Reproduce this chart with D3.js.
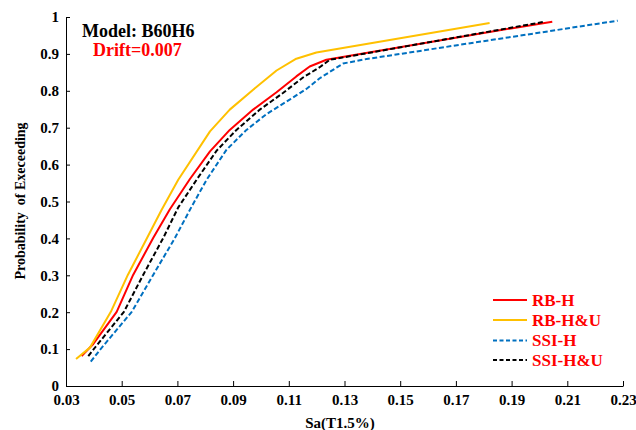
<!DOCTYPE html>
<html><head><meta charset="utf-8">
<script src="https://cdn.jsdelivr.net/npm/d3@7"></script>
<style>body{margin:0;background:#fff}svg{display:block}text{font-family:"Liberation Serif","Times New Roman",serif;font-weight:bold}</style>
</head><body><svg id="c" width="636" height="430"></svg>
<script>
const seriesNames = ["RB-H", "RB-H&U", "SSI-H", "SSI-H&U"];
const xTicks = [0.03,0.05,0.07,0.09,0.11,0.13,0.15,0.17,0.19,0.21,0.23];
const yTicks = [0,0.1,0.2,0.3,0.4,0.5,0.6,0.7,0.8,0.9,1];
const rbH = [[0.0356,0.081],[0.0398,0.114],[0.0482,0.201],[0.0541,0.301],[0.0613,0.401],[0.0673,0.479],[0.0745,0.561],[0.0817,0.636],[0.0888,0.694],[0.0972,0.749],[0.1056,0.796],[0.1127,0.839],[0.1175,0.866],[0.1235,0.884],[0.1857,0.964],[0.2046,0.987]];
const rbHU = [[0.0336,0.073],[0.0386,0.104],[0.0461,0.201],[0.0522,0.301],[0.0591,0.401],[0.0643,0.477],[0.0703,0.559],[0.0817,0.690],[0.0888,0.749],[0.0972,0.803],[0.1056,0.855],[0.1127,0.887],[0.1199,0.904],[0.1821,0.984]];
const ssiH = [[0.0389,0.066],[0.0422,0.098],[0.0536,0.201],[0.0613,0.301],[0.0691,0.401],[0.0751,0.486],[0.0805,0.559],[0.0876,0.640],[0.0948,0.694],[0.1020,0.737],[0.1103,0.776],[0.1163,0.805],[0.1211,0.834],[0.1295,0.874],[0.1379,0.886],[0.2281,0.990]];
const ssiHU = [[0.0380,0.081],[0.0405,0.105],[0.0508,0.201],[0.0577,0.301],[0.0649,0.401],[0.0703,0.484],[0.0769,0.559],[0.0841,0.638],[0.0912,0.694],[0.0996,0.749],[0.1079,0.794],[0.1151,0.836],[0.1211,0.864],[0.1247,0.884],[0.2018,0.987]];
const seriesData = [rbH, rbHU, ssiH, ssiHU];
const colors = ["#FF0000","#FFC000","#0070C0","#000000"];
const dashes = [null,null,"5,2.5","5,2.5"];

const svg = d3.select("#c");
const x = d3.scaleLinear().domain([0.03,0.23]).range([66,623]);
const y = d3.scaleLinear().domain([0,1]).range([386,17]);

const xa = svg.append("g").attr("transform","translate(0,386)")
  .call(d3.axisBottom(x).tickValues(xTicks).tickSizeInner(-5).tickSizeOuter(0).tickPadding(14).tickFormat(d3.format(".2f")));
const ya = svg.append("g").attr("transform","translate(66,0)")
  .call(d3.axisLeft(y).tickValues(yTicks).tickSizeInner(-4).tickSizeOuter(0).tickPadding(7).tickFormat(d=>d===0?"0":d===1?"1":d3.format(".1f")(d)));
[xa,ya].forEach(a=>{a.selectAll("path,line").attr("stroke","#000").attr("stroke-width",1);
  a.selectAll("text").attr("font-size",15).attr("fill","#000").style("font-family","Liberation Serif").style("font-weight","bold");});
xa.selectAll("text").attr("dy","0.35em");

const line = d3.line().x(d=>x(d[0])).y(d=>y(d[1])).curve(d3.curveLinear);
seriesData.forEach((s,i)=>{
  svg.append("path").datum(s).attr("d",line).attr("fill","none")
    .attr("stroke",colors[i]).attr("stroke-width",2).attr("stroke-linejoin","round")
    .attr("stroke-dasharray",dashes[i]);
});

svg.append("text").attr("x",82).attr("y",37).attr("font-size",18).attr("fill","#000").text("Model: B60H6");
svg.append("text").attr("x",93).attr("y",56).attr("font-size",18).attr("fill","#FF0000").text("Drift=0.007");

svg.append("text").attr("x",340).attr("y",428).attr("text-anchor","middle").attr("font-size",15).attr("fill","#000").text("Sa(T1.5%)");
svg.append("text").attr("transform","translate(25,201) rotate(-90)").attr("text-anchor","middle").attr("font-size",14).attr("fill","#000").attr("xml:space","preserve").style("white-space","pre").text("Probability  of Execeeding");

const legY = [300,320,340.5,360];
seriesNames.forEach((n,i)=>{
  svg.append("line").attr("x1",493).attr("x2",527).attr("y1",legY[i]).attr("y2",legY[i])
    .attr("stroke",colors[i]).attr("stroke-width",2).attr("stroke-dasharray",dashes[i]?"4,2.5":null);
  svg.append("text").attr("x",532).attr("y",legY[i]).attr("dy","0.35em").attr("font-size",17).attr("fill","#FF0000").text(n);
});
</script></body></html>
